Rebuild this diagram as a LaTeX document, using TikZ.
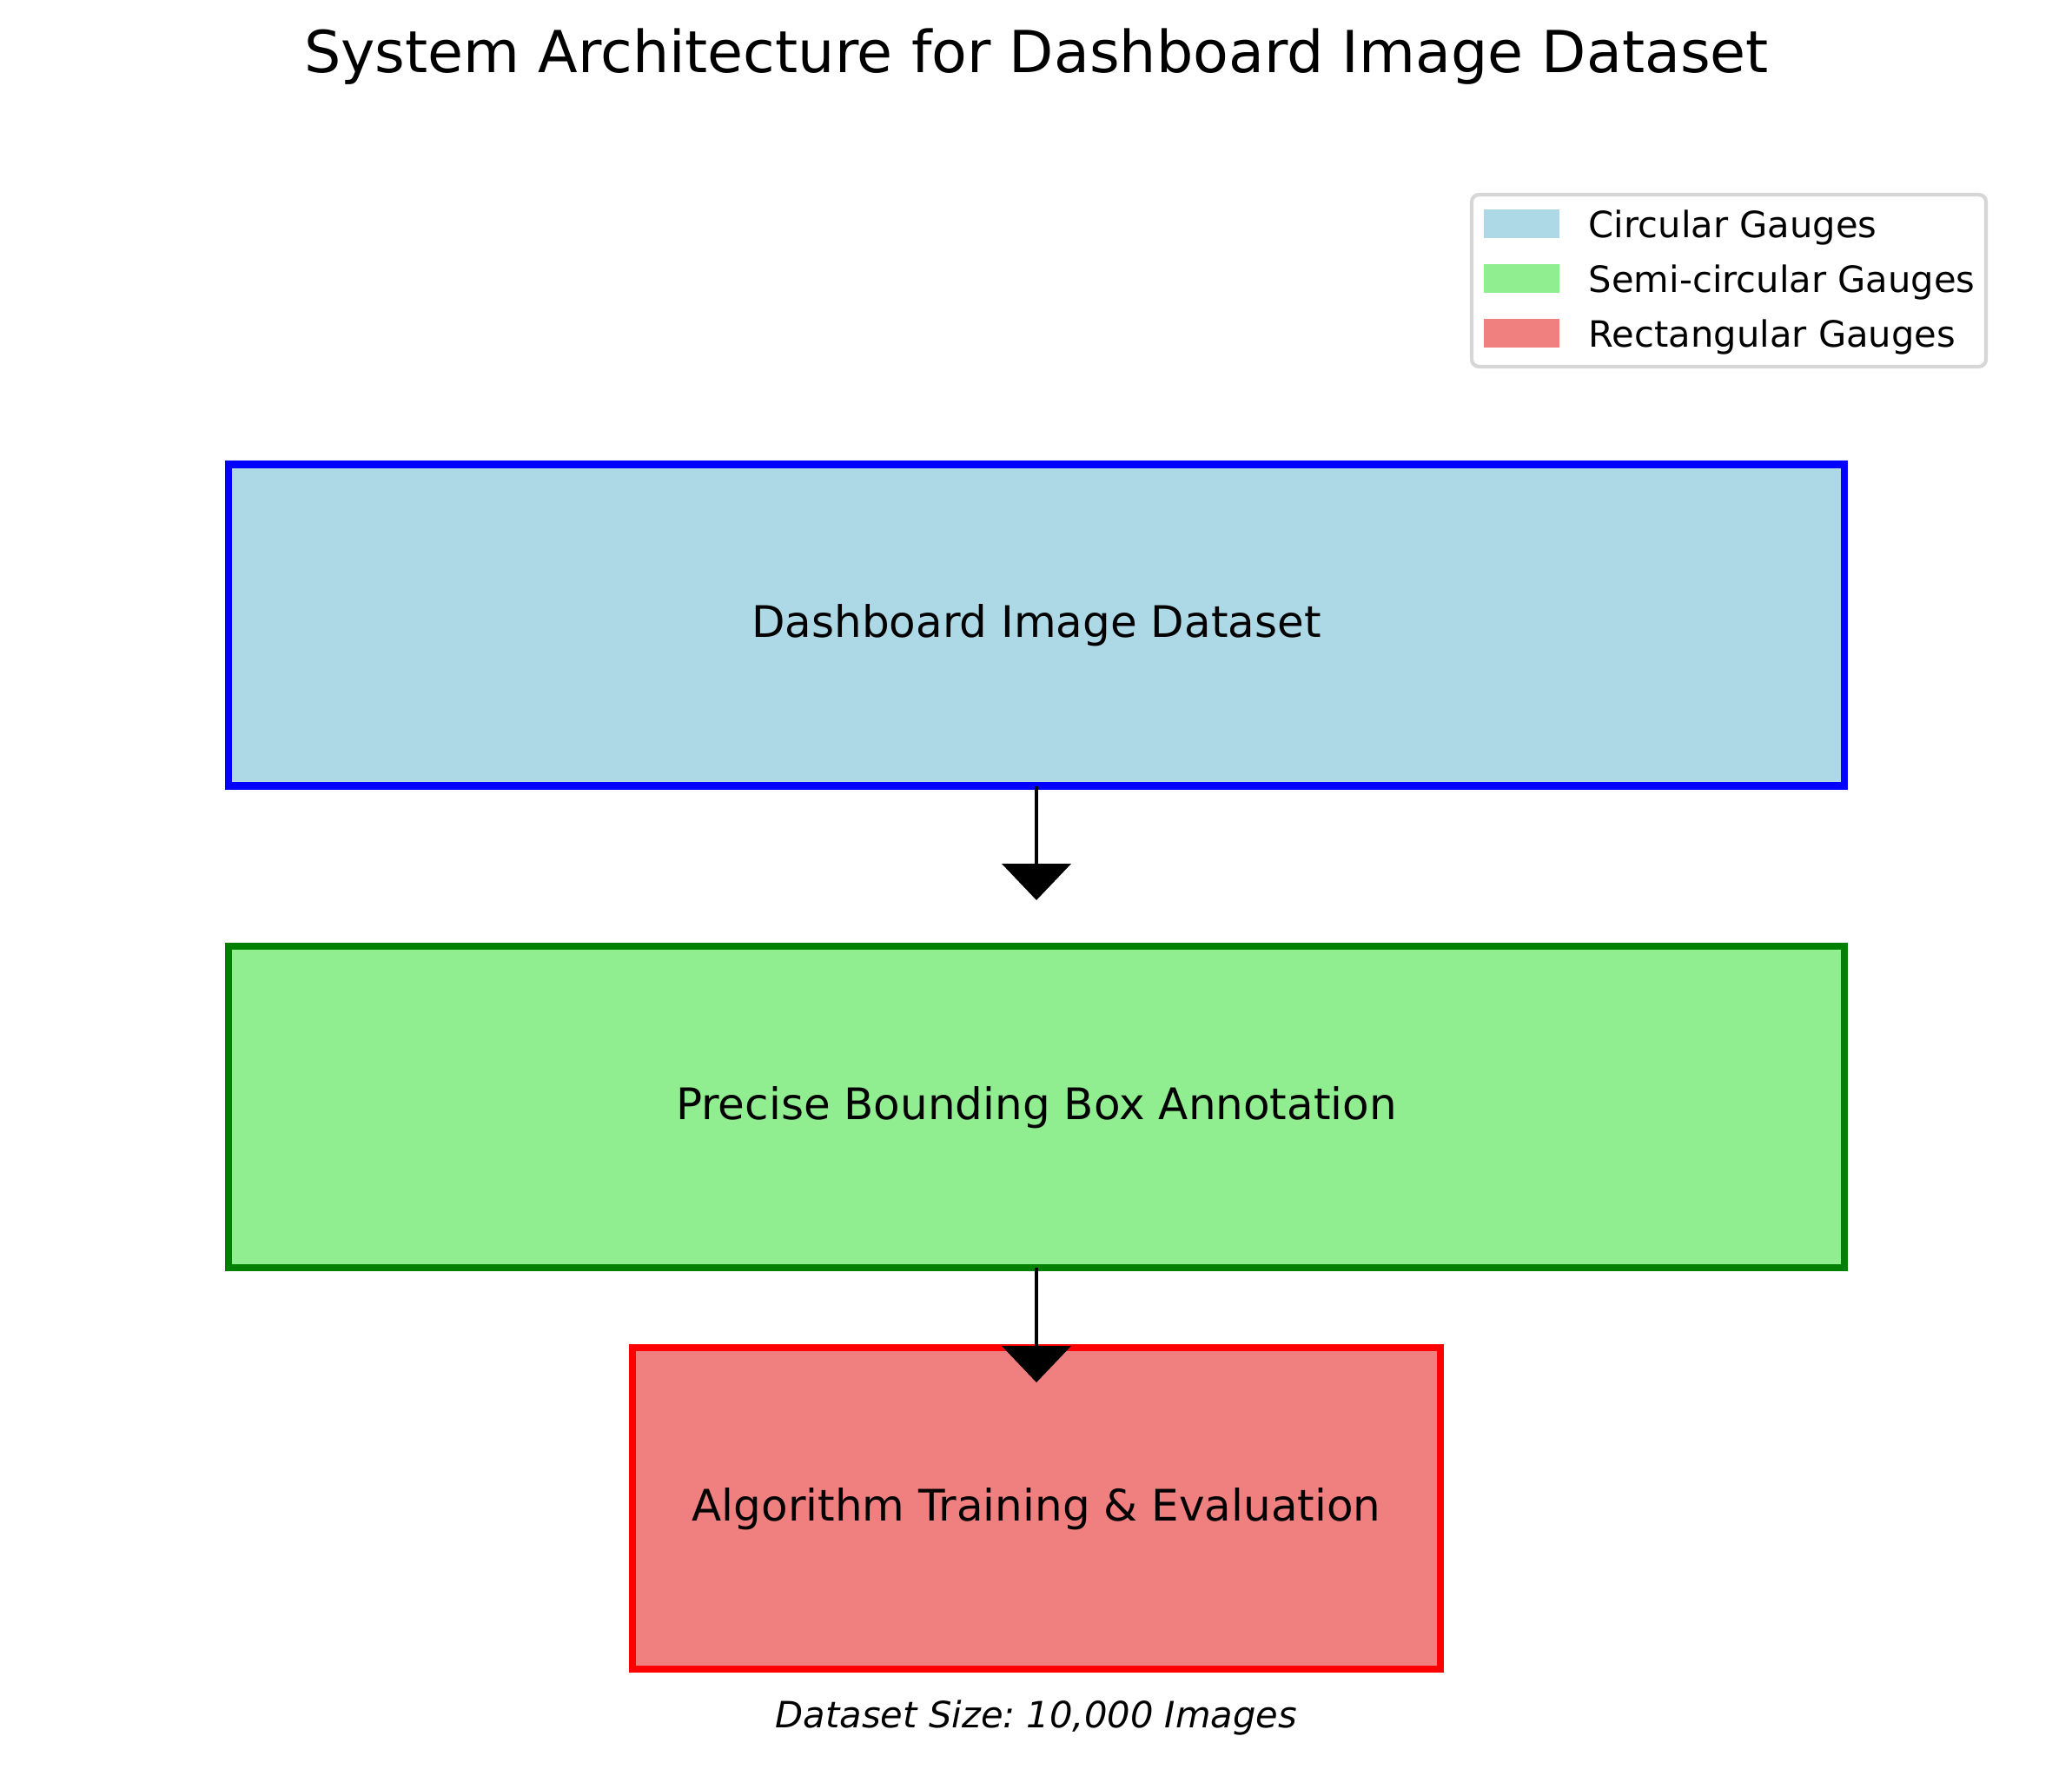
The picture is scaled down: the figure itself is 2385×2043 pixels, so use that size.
\documentclass[tikz,border=0pt]{standalone}
\usepackage{fontspec}
\setmainfont{DejaVu Sans}
\frenchspacing
\usetikzlibrary{arrows.meta}
\definecolor{lblue}{HTML}{ADD8E6}
\definecolor{lgreen}{HTML}{90EE90}
\definecolor{lcoral}{HTML}{F08080}
\definecolor{mgreen}{HTML}{008000}
\definecolor{legedge}{HTML}{D6D6D6}
\tikzset{
  stage/.style={draw, line width=2pt, inner sep=0pt, outer sep=0pt,
    minimum height=88.8pt, text height=0.76em, text depth=0.08em,
    font=\fontsize{12}{14}\selectfont},
  wide/.style={minimum width=446.4pt},
  narrow/.style={minimum width=223.2pt},
  flow/.style={line width=1.13pt, -{Triangle[width=18.96pt,length=10.08pt]}},
  legpatch/.style={inner sep=0pt, outer sep=0pt, minimum width=20.9pt, minimum height=7.9pt},
  legtext/.style={anchor=base west, inner sep=0pt, font=\fontsize{10}{12}\selectfont},
}
\begin{document}
\begin{tikzpicture}[x=0.24pt, y=-0.24pt]
\useasboundingbox (0,0) rectangle (2385,2043);
% title
\node[anchor=base, inner sep=0pt, font=\fontsize{16}{19}\selectfont] (title) at (1193,83) {System Architecture for Dashboard Image Dataset};
% legend
\node[draw=legedge, fill=white, line width=1pt, rounded corners=2pt, inner sep=0pt,
      minimum width=142.1pt, minimum height=47.5pt] (legend) at (1990,323) {};
\node[legpatch, fill=lblue] (p1) at (1751.5,257.5) {};
\node[legpatch, fill=lgreen] (p2) at (1751.5,320.5) {};
\node[legpatch, fill=lcoral] (p3) at (1751.5,383.5) {};
\node[legtext] (t1) at (1828,273) {Circular Gauges};
\node[legtext] (t2) at (1828,336) {Semi-circular Gauges};
\node[legtext] (t3) at (1828,399) {Rectangular Gauges};
% stages
\node[stage, wide, draw=blue, fill=lblue] (b1) at (1193,719.5) {Dashboard Image Dataset};
\node[stage, wide, draw=mgreen, fill=lgreen] (b2) at (1193,1274) {Precise Bounding Box Annotation};
\node[stage, narrow, draw=red, fill=lcoral] (b3) at (1193,1736) {Algorithm Training \& Evaluation};
% arrows
\draw[flow, shorten >=12.72pt] (b1.south) -- (b2.north);
\draw[flow, shorten >=-9.6pt] (b2.south) -- (b3.north);
% caption
\node[anchor=base, inner sep=0pt, font=\fontsize{10}{12}\selectfont\itshape] (caption) at (1193,1988) {Dataset Size: 10,000 Images};
\end{tikzpicture}
\end{document}
